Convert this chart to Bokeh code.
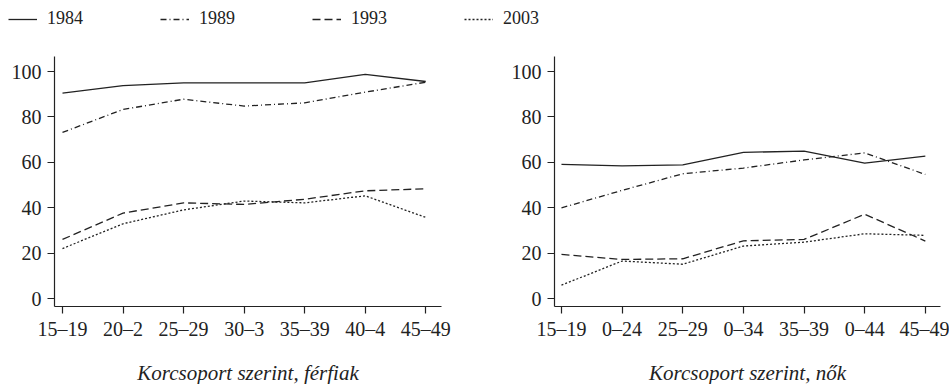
from bokeh.plotting import figure
from bokeh.models import Range1d, FixedTicker, Legend, LegendItem, ColumnDataSource
from bokeh.layouts import column, row
from bokeh.embed import file_html
from bokeh.resources import INLINE

# ---- data ----
years = ["1984", "1989", "1993", "2003"]
men_labels = ["15–19", "20–2", "25–29", "30–3", "35–39", "40–4", "45–49"]
women_labels = ["15–19", "0–24", "25–29", "0–34", "35–39", "0–44", "45–49"]

men_1984 = [90.5, 93.8, 95.0, 95.0, 95.0, 98.7, 95.6]
men_1989 = [73.2, 83.3, 87.8, 84.8, 86.2, 90.9, 95.3]
men_1993 = [26.1, 37.7, 42.2, 41.5, 43.8, 47.5, 48.4]
men_2003 = [22.1, 33.0, 39.1, 43.0, 42.2, 45.3, 35.8]

women_1984 = [59.1, 58.5, 58.9, 64.4, 65.0, 59.7, 62.8]
women_1989 = [40.0, 47.7, 55.0, 57.5, 61.1, 64.2, 54.7]
women_1993 = [19.5, 17.3, 17.6, 25.5, 26.1, 37.2, 25.4]
women_2003 = [6.0, 16.6, 15.2, 23.2, 24.9, 28.6, 27.9]

y_ticks = [0, 20, 40, 60, 80, 100]

captions = ["Korcsoport szerint, férfiak", "Korcsoport szerint, nők"]

# ---- styles ----
INK = "#222222"
dashes = {"1984": "solid", "1989": "6 3 1 3", "1993": "8 4", "2003": "2 2"}
SERIF = "'Liberation Serif', 'Times New Roman', serif"


def make_panel(labels, series, caption, border_left, frame_w, border_right, x_start, x_end):
    p = figure(frame_width=frame_w, frame_height=250,
               min_border_left=border_left, min_border_right=border_right,
               min_border_top=28, min_border_bottom=78,
               x_range=Range1d(x_start, x_end), y_range=Range1d(-3.4, 106.6),
               output_backend="svg", toolbar_location=None,
               background_fill_color="white", border_fill_color="white")
    p.outline_line_color = None
    p.grid.visible = False
    xs = list(range(len(labels)))
    for yr, vals in zip(years, series):
        p.line(xs, vals, line_color=INK, line_width=1.3, line_dash=dashes[yr])

    p.xaxis.ticker = FixedTicker(ticks=xs)
    p.xaxis.major_label_overrides = {i: lab for i, lab in enumerate(labels)}
    p.yaxis.ticker = FixedTicker(ticks=y_ticks)
    for ax in (p.xaxis[0], p.yaxis[0]):
        ax.axis_line_color = INK
        ax.axis_line_width = 1.2
        ax.major_tick_line_color = INK
        ax.major_tick_line_width = 1.2
        ax.major_tick_out = 7
        ax.major_tick_in = 0
        ax.minor_tick_line_color = None
        ax.major_label_text_font = SERIF
        ax.major_label_text_font_size = "20px"
        ax.major_label_text_color = "#222222"
    p.yaxis.major_label_standoff = 6
    p.xaxis.major_label_standoff = 4
    p.xaxis.axis_label = caption
    p.xaxis.axis_label_text_font = SERIF
    p.xaxis.axis_label_text_font_style = "italic"
    p.xaxis.axis_label_text_font_size = "21px"
    p.xaxis.axis_label_text_color = "#222222"
    p.xaxis.axis_label_standoff = 18
    return p


left = make_panel(men_labels, [men_1984, men_1989, men_1993, men_2003], captions[0],
                  54, 387, 59, -0.132, 6.26)
right = make_panel(women_labels, [women_1984, women_1989, women_1993, women_2003], captions[1],
                   54, 386, 9, -0.115, 6.25)

# ---- legend strip ----
leg = figure(width=949, height=28, x_range=Range1d(0, 1), y_range=Range1d(0, 1),
             x_axis_location=None, y_axis_location=None, min_border=0,
             output_backend="svg", toolbar_location=None)
leg.outline_line_color = None
leg.grid.visible = False
items = []
for yr in years:
    src = ColumnDataSource(dict(x=[5, 6], y=[5, 6]))
    r = leg.line("x", "y", source=src, line_color=INK, line_width=1.3, line_dash=dashes[yr])
    items.append(LegendItem(label=yr, renderers=[r]))
legend = Legend(items=items, orientation="horizontal", location="top_left",
                glyph_width=29, glyph_height=20, label_standoff=10, spacing=77,
                padding=0, margin=8, border_line_color=None, background_fill_alpha=0,
                label_text_font=SERIF, label_text_font_size="18px",
                label_text_color="#222222")
leg.add_layout(legend)

layout = column(leg, row(left, right, spacing=0), spacing=0)

open("out.html", "w").write(file_html(layout, INLINE))
